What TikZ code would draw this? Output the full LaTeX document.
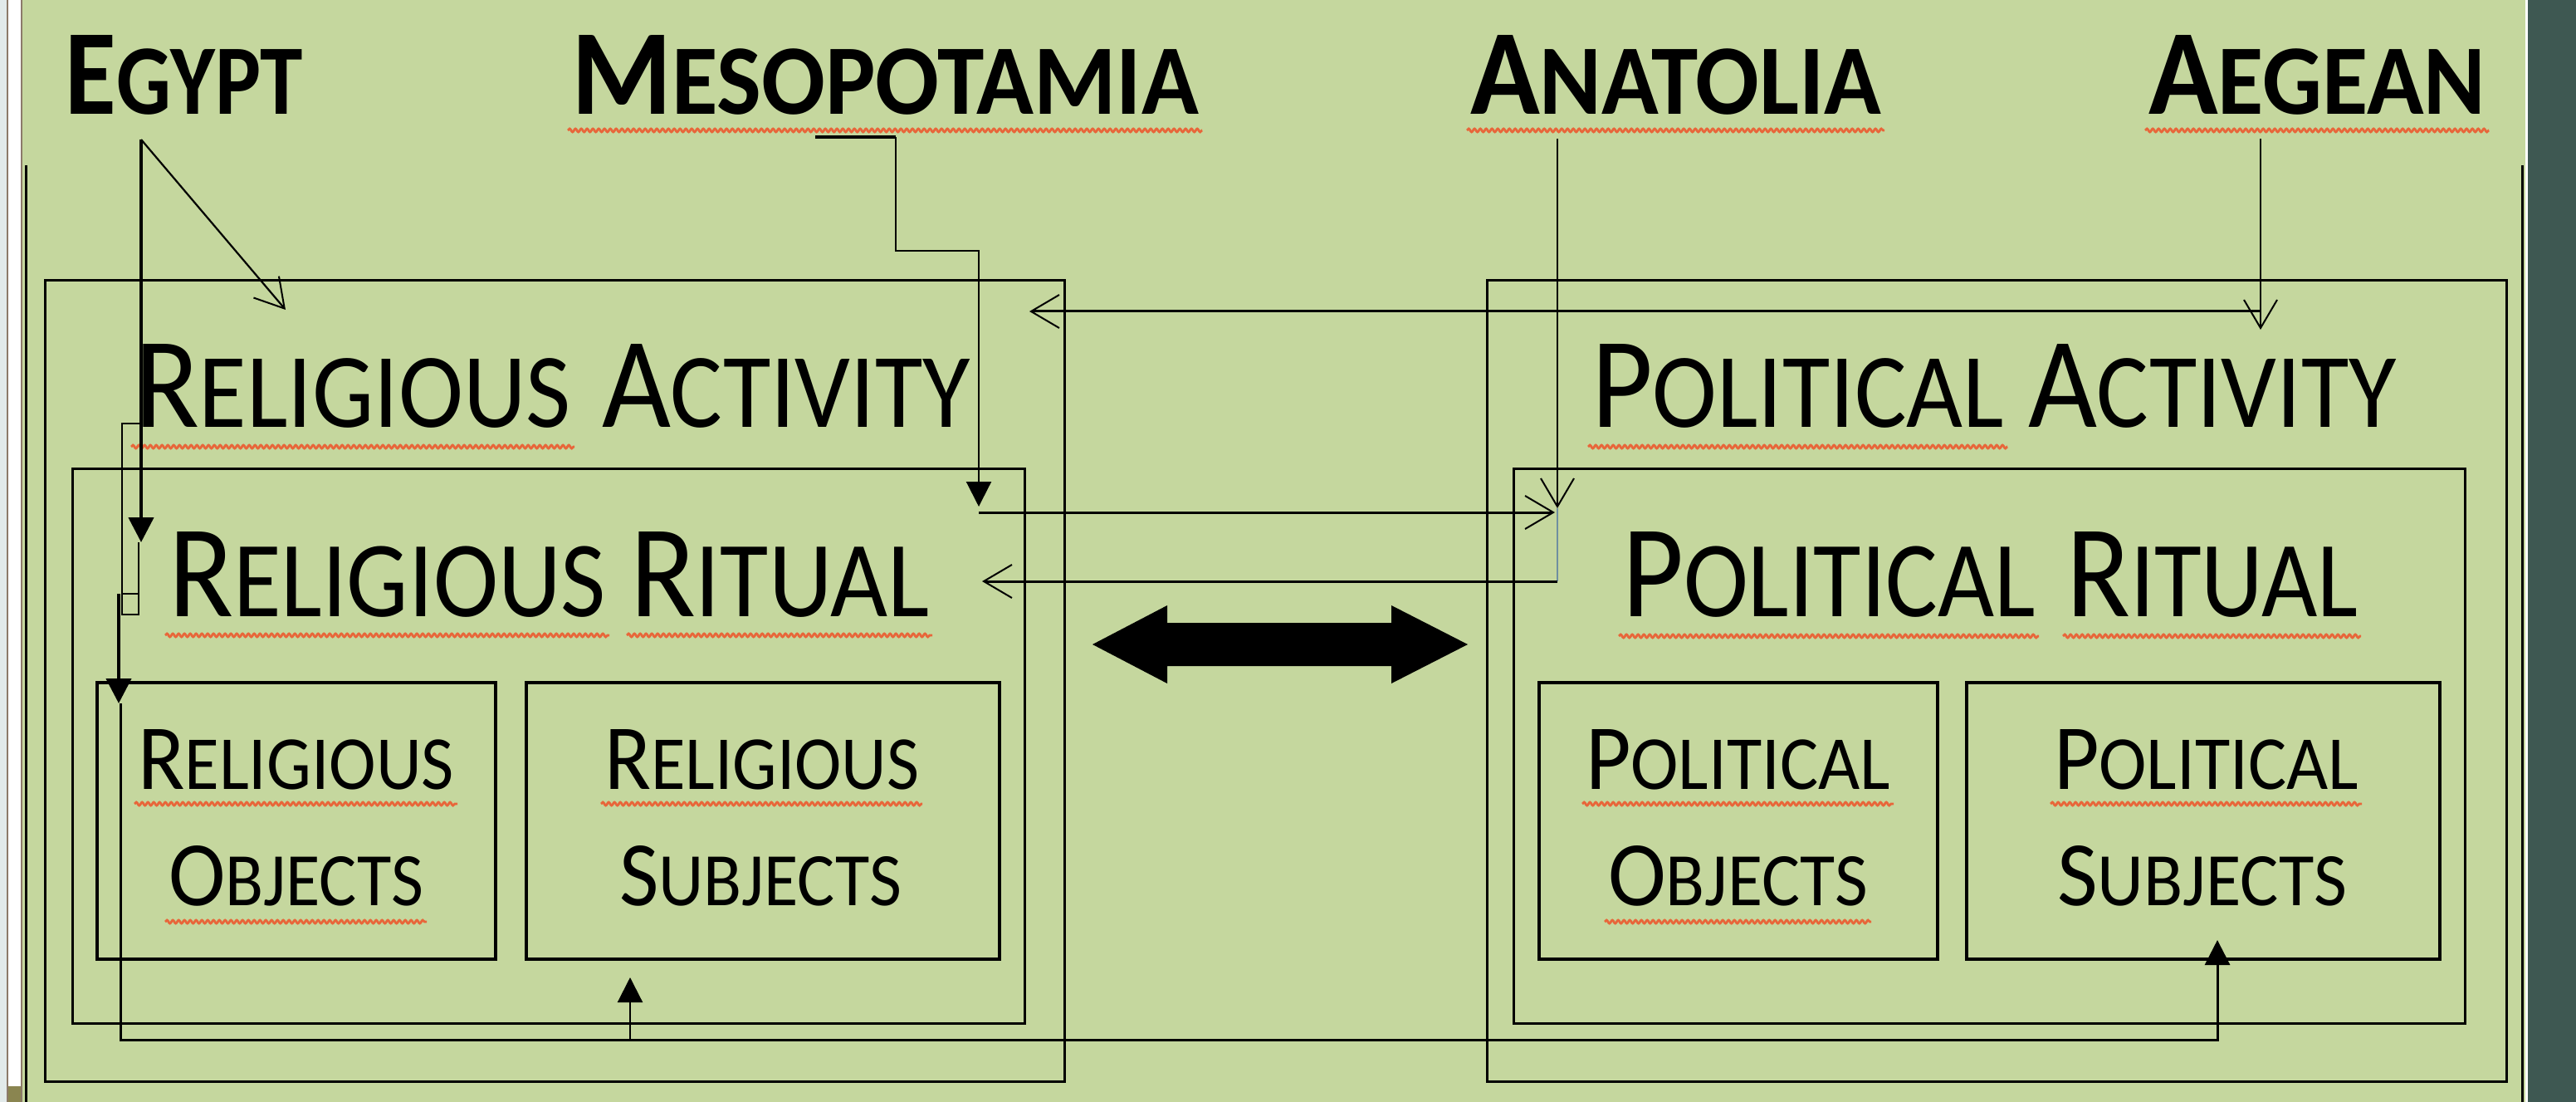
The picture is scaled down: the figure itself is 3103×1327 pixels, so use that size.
\documentclass[tikz,border=0pt]{standalone}
\usepackage{fontspec}
\setmainfont{Carlito}
\usepackage{graphicx}
\usetikzlibrary{arrows.meta,decorations.pathmorphing,calc}
\newlength\px \setlength\px{0.1mm}
\definecolor{bggreen}{HTML}{C5D79E}
\definecolor{darkteal}{HTML}{3E5852}
\definecolor{edgegrey}{HTML}{E2EAEA}
\definecolor{edgebrown}{HTML}{8C7A6A}
\definecolor{olivebar}{HTML}{8A8550}
\definecolor{spell}{HTML}{E8663A}
\definecolor{bluegrey}{HTML}{6F8FA0}
\newcommand\SCword[2]{{\fontsize{20}{24}\selectfont #1}{\fontsize{16.4}{20}\selectfont #2}}
\newcommand\fitword[3]{\resizebox{#1\px}{#2\px}{#3}}
\begin{document}
\begin{tikzpicture}[x=0.1mm,y=-0.1mm,
  box/.style={draw=black, line width=0.3mm, inner sep=0, outer sep=0, anchor=north west},
  subbox/.style={box, line width=0.4mm},
  word/.style={inner sep=0, outer sep=0, anchor=base west, text=black},
  wavy/.style={draw=spell, line width=0.28mm, decorate, decoration={snake, amplitude=0.2mm, segment length=0.7mm}},
  conn/.style={draw=black, line width=0.22mm},
  heavyconn/.style={draw=black, line width=0.45mm},
  openhead/.style={-{Straight Barb[length=3.4mm, width=4mm, line width=0.2mm]}},
  fillhead/.style={-{Triangle[length=3mm, width=3mm]}}
]
\useasboundingbox (0,0) rectangle (3103,1327);
% background
\fill[bggreen] (0,0) rectangle (3103,1327);
\fill[edgegrey] (0,0) rectangle (8,1327);
\fill[edgebrown] (8,0) rectangle (10,1327);
\fill[white] (10,0) rectangle (25,1327);
\fill[edgebrown] (25,0) rectangle (27,1327);
\fill[olivebar] (10,1308) rectangle (25,1327);
\fill[white] (3042,0) rectangle (3045,1327);
\fill[darkteal] (3045,0) rectangle (3103,1327);
\draw[black, line width=0.3mm] (31,199) -- (31,1327);
\draw[black, line width=0.3mm] (3038,199) -- (3038,1327);

% boxes
\node[box, minimum width=122.8mm, minimum height=96.5mm] (RA) at (54,338) {};
\node[box, minimum width=114.7mm, minimum height=66.8mm] (RR) at (87,564) {};
\node[subbox, minimum width=48mm, minimum height=33.3mm] (RO) at (117,822) {};
\node[subbox, minimum width=57mm, minimum height=33.3mm] (RS) at (634,822) {};
\node[box, minimum width=122.8mm, minimum height=96.5mm] (PA) at (1791,338) {};
\node[box, minimum width=114.6mm, minimum height=66.8mm] (PR) at (1823,564) {};
\node[subbox, minimum width=48mm, minimum height=33.3mm] (PO) at (1854,822) {};
\node[subbox, minimum width=57mm, minimum height=33.3mm] (PS) at (2369,822) {};

% titles
\node[word] (egypt) at (79,138) {\fitword{286}{95}{\bfseries\SCword{E}{GYPT}}};
\node[word] (meso) at (688,138) {\fitword{756}{95}{\bfseries\SCword{M}{ESOPOTAMIA}}};
\node[word] (anat) at (1771,138) {\fitword{495}{95}{\bfseries\SCword{A}{NATOLIA}}};
\node[word] (aegean) at (2588,138) {\fitword{406}{95}{\bfseries\SCword{A}{EGEAN}}};

% headings
\node[word] (raw1) at (162,515) {\fitword{526}{100}{\SCword{R}{ELIGIOUS}}};
\node[word] (raw2) at (725,515) {\fitword{444}{100}{\SCword{A}{CTIVITY}}};
\node[word] (rrw1) at (203,742) {\fitword{527}{102}{\SCword{R}{ELIGIOUS}}};
\node[word] (rrw2) at (759,742) {\fitword{360}{102}{\SCword{R}{ITUAL}}};
\node[word] (paw1) at (1917,515) {\fitword{497}{100}{\SCword{P}{OLITICAL}}};
\node[word] (paw2) at (2443,515) {\fitword{444}{100}{\SCword{A}{CTIVITY}}};
\node[word] (prw1) at (1954,742) {\fitword{498}{102}{\SCword{P}{OLITICAL}}};
\node[word] (prw2) at (2489,742) {\fitword{351}{102}{\SCword{R}{ITUAL}}};

% box words
\node[word] (row1) at (166,950) {\fitword{381}{72}{\SCword{R}{ELIGIOUS}}};
\node[word] (row2) at (203,1090) {\fitword{307}{72}{\SCword{O}{BJECTS}}};
\node[word] (rsw1) at (728,950) {\fitword{379}{72}{\SCword{R}{ELIGIOUS}}};
\node[word] (rsw2) at (746,1090) {\fitword{340}{72}{\SCword{S}{UBJECTS}}};
\node[word] (pow1) at (1910,950) {\fitword{367}{72}{\SCword{P}{OLITICAL}}};
\node[word] (pow2) at (1937,1090) {\fitword{313}{72}{\SCword{O}{BJECTS}}};
\node[word] (psw1) at (2474,950) {\fitword{367}{72}{\SCword{P}{OLITICAL}}};
\node[word] (psw2) at (2478,1090) {\fitword{349}{72}{\SCword{S}{UBJECTS}}};

% spell-check underlines
\foreach \w/\d in {meso/19,anat/19,aegean/19,raw1/23,rrw1/23,rrw2/23,paw1/23,prw1/24,prw2/24,row1/18,row2/20,rsw1/18,pow1/18,pow2/20,psw1/18}{
  \draw[wavy] ($(\w.base west)+(-4,\d)$) -- ($(\w.base east)+(4,\d)$);
}

% big double arrow
\fill[black] (1316,776) -- (1406,729) -- (1406,750) -- (1676,750) -- (1676,729) -- (1768,776)
  -- (1676,823) -- (1676,802) -- (1406,802) -- (1406,823) -- cycle;

% Egypt connectors
\coordinate (eg0) at (170,168);
\coordinate (egD) at (344,373);
\coordinate (egA) at (170,653);
\coordinate (egB1) at (170,510);
\coordinate (egB2) at (147,510);
\coordinate (egB3) at (147,715);
\coordinate (egR2) at (167,740);
\coordinate (egC1) at (167,653);
\coordinate (egC2) at (167,715);
\coordinate (egE1) at (143,715);
\coordinate (egE2) at (143,847);
\coordinate (egF1) at (145,847);
\coordinate (egF2) at (145,1252);
\coordinate (egF3) at (2671,1252);
\coordinate (egF4) at (2671,1132);
\coordinate (egG1) at (759,1252);
\coordinate (egG2) at (759,1177);
\draw[conn, openhead] (eg0) -- (egD);
\draw[heavyconn, fillhead] (eg0) -- (egA);
\draw[conn] (egB1) -- (egB2) -- (egB3);
\draw[conn] (egB3) rectangle (egR2);
\draw[conn] (egC1) -- (egC2);
\draw[heavyconn, fillhead] (egE1) -- (egE2);
\draw[conn, line width=0.3mm, fillhead] (egF1) -- (egF2) -- (egF3) -- (egF4);
\draw[conn, fillhead] (egG1) -- (egG2);

% Mesopotamia connector
\coordinate (ms0) at (982,165);
\coordinate (ms1) at (1079,165);
\coordinate (ms2) at (1079,302);
\coordinate (ms3) at (1179,302);
\coordinate (ms4) at (1179,610);
\coordinate (ms5) at (1179,617);
\coordinate (ms6) at (1873,617);
\draw[heavyconn] (ms0) -- (ms1);
\draw[conn, fillhead] (ms1) -- (ms2) -- (ms3) -- (ms4);
\draw[conn, line width=0.3mm, openhead] (ms5) -- (ms6);

% Anatolia connector
\coordinate (an0) at (1876,167);
\coordinate (an1) at (1876,612);
\coordinate (an2) at (1876,700);
\coordinate (an3) at (1183,700);
\draw[conn, openhead] (an0) -- (an1);
\draw[draw=bluegrey, line width=0.18mm] (an1) -- (an2);
\draw[conn, line width=0.3mm, openhead] (an2) -- (an3);

% Aegean connector
\coordinate (ae0) at (2723,167);
\coordinate (ae1) at (2723,397);
\coordinate (ae2) at (2723,375);
\coordinate (ae3) at (1240,375);
\draw[conn, openhead] (ae0) -- (ae1);
\draw[conn, line width=0.3mm, openhead] (ae2) -- (ae3);
\end{tikzpicture}
\end{document}
